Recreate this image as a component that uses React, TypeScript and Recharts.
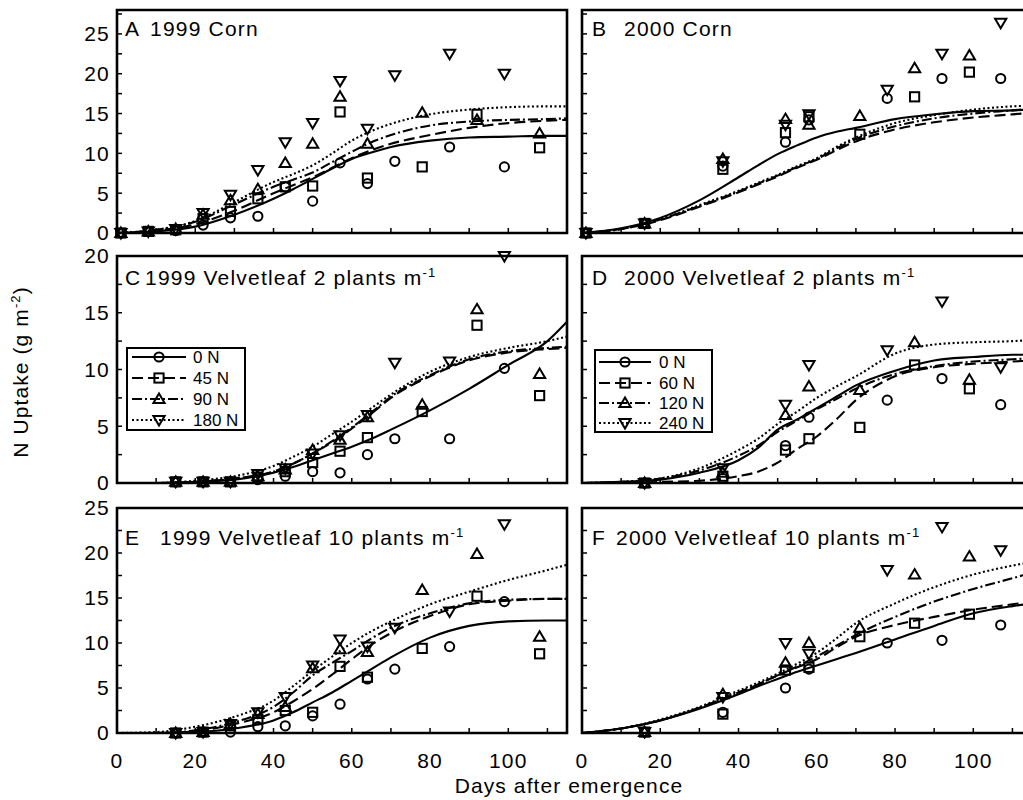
import React from 'react';
import { ComposedChart, Line, Scatter, XAxis, YAxis, ReferenceArea } from 'recharts';

const FONT = '"Liberation Sans", Arial, Helvetica, sans-serif';

// ---- sampling days ----
const days1999 = [1, 8, 15, 22, 29, 36, 43, 50, 57, 64, 71, 78, 85, 92, 99, 108];
const days2000 = [1, 16, 36, 52, 58, 71, 78, 85, 92, 99, 107];
const curveDays = [0, 10, 20, 30, 40, 45, 50, 55, 60, 65, 70, 80, 90, 100, 110, 115];

// ---- tick values ----
const xTicks = [0, 10, 20, 30, 40, 50, 60, 70, 80, 90, 100, 110];
const yTicksCorn = [0, 2.5, 5, 7.5, 10, 12.5, 15, 17.5, 20, 22.5, 25, 27.5];
const yTicksV2 = [0, 2.5, 5, 7.5, 10, 12.5, 15, 17.5, 20];
const yTicksV10 = [0, 2.5, 5, 7.5, 10, 12.5, 15, 17.5, 20, 22.5, 25];

// ---- A: 1999 Corn (points) ----
const aN0 = [0, 0.2, 0.3, 1.0, 1.9, 2.1, 5.8, 4.0, 8.8, 6.2, 9.0, null, 10.8, null, 8.3, null];
const aN1 = [0, 0.2, 0.4, 1.8, 2.7, 4.3, 5.8, 5.9, 15.2, 6.9, null, 8.3, null, 14.9, null, 10.7];
const aN2 = [0, 0.2, 0.5, 2.3, 4.1, 5.5, 8.8, 11.2, 17.1, 11.2, null, 15.1, null, 14.2, null, 12.5];
const aN3 = [0, 0.2, 0.5, 2.5, 4.8, 7.9, 11.4, 13.8, 19.1, 13.1, 19.8, null, 22.5, null, 20.0, null];
// A curves
const aC0 = [0, 0.2, 0.8, 2.3, 4.3, 5.5, 6.8, 8.1, 9.3, 10.1, 10.8, 11.6, 12.0, 12.1, 12.2, 12.2];
const aC1 = [0, 0.3, 1.1, 2.8, 5.0, 6.0, 7.0, 8.2, 9.4, 10.4, 11.2, 12.3, 13.2, 13.8, 14.1, 14.2];
const aC2 = [0, 0.4, 1.4, 3.6, 5.8, 6.7, 7.6, 8.9, 10.2, 11.4, 12.3, 13.5, 14.0, 14.2, 14.3, 14.4];
const aC3 = [0, 0.4, 1.5, 3.9, 6.4, 7.4, 8.5, 10.0, 11.6, 12.8, 13.7, 14.9, 15.5, 15.8, 15.9, 15.9];

// ---- B: 2000 Corn ----
const bN0 = [0, 1.2, 8.4, 11.4, 14.2, null, 16.9, null, 19.4, null, 19.4];
const bN1 = [0, 1.2, 8.0, 12.6, 14.6, 12.4, null, 17.1, null, 20.2, null];
const bN2 = [0, 1.2, 9.3, 14.3, 13.6, 14.7, null, 20.7, null, 22.3, null];
const bN3 = [0, 1.2, 9.0, 13.6, 14.9, null, 18.0, null, 22.5, null, 26.4];
const bC0 = [0, 0.6, 1.9, 4.1, 7.0, 8.5, 9.9, 11.0, 12.0, 12.7, 13.2, 14.3, 14.9, 15.3, 15.4, 15.5];
const bC1 = [0, 0.5, 1.6, 3.3, 5.1, 6.1, 7.1, 8.2, 9.2, 10.4, 11.5, 13.0, 13.9, 14.5, 14.9, 15.1];
const bC2 = [0, 0.5, 1.7, 3.4, 5.2, 6.2, 7.2, 8.3, 9.3, 10.6, 11.8, 13.4, 14.4, 15.0, 15.4, 15.6];
const bC3 = [0, 0.5, 1.7, 3.5, 5.3, 6.3, 7.3, 8.4, 9.4, 10.8, 12.0, 13.8, 14.8, 15.5, 15.9, 16.0];

// ---- C: 1999 Velvetleaf 2 plants ----
const cN0 = [null, null, 0.1, 0.1, 0.1, 0.3, 0.6, 1.0, 0.9, 2.5, 3.9, null, 3.9, null, 10.1, null];
const cN1 = [null, null, 0.1, 0.1, 0.1, 0.5, 1.0, 1.8, 2.8, 4.0, null, 6.3, null, 13.9, null, 7.7];
const cN2 = [null, null, 0.1, 0.1, 0.1, 0.6, 1.2, 2.9, 3.8, 5.8, null, 6.9, null, 15.3, null, 9.6];
const cN3 = [null, null, 0.1, 0.1, 0.1, 0.8, 1.3, 2.6, 4.2, 6.0, 10.6, null, 10.7, null, 20.0, null];
const cC0 = [0, 0, 0.1, 0.3, 0.9, 1.4, 2.0, 2.6, 3.2, 3.9, 4.7, 6.4, 8.3, 10.4, 12.5, 14.2];
const cC1 = [0, 0, 0.1, 0.4, 1.0, 1.7, 2.6, 3.6, 4.8, 6.1, 7.5, 9.4, 10.8, 11.5, 11.8, 11.9];
const cC2 = [0, 0, 0.1, 0.4, 1.0, 1.7, 2.6, 3.7, 4.9, 6.2, 7.6, 9.5, 10.9, 11.6, 11.9, 12.0];
const cC3 = [0, 0, 0.2, 0.6, 1.5, 2.3, 3.2, 4.3, 5.4, 6.6, 7.8, 9.8, 11.1, 11.9, 12.5, 12.9];

// ---- D: 2000 Velvetleaf 2 plants ----
const dN0 = [null, 0, 0.4, 3.3, 5.8, null, 7.3, null, 9.2, null, 6.9];
const dN1 = [null, 0, 0.6, 2.9, 3.9, 4.9, null, 10.4, null, 8.3, null];
const dN2 = [null, 0, 0.9, 6.0, 8.5, 8.2, null, 12.4, null, 9.1, null];
const dN3 = [null, 0, 1.3, 6.9, 10.4, null, 11.7, null, 16.0, null, 10.2];
const dC0 = [0, 0.1, 0.3, 0.9, 2.0, 3.1, 4.7, 5.6, 6.6, 7.6, 8.6, 9.9, 10.8, 11.1, 11.3, 11.3];
const dC1 = [0, 0, 0.1, 0.2, 0.6, 1.0, 1.8, 3.0, 4.1, 5.6, 7.3, 9.4, 10.2, 10.5, 10.7, 10.8];
const dC2 = [0, 0.1, 0.4, 1.1, 2.4, 3.3, 4.5, 5.5, 6.5, 7.4, 8.3, 9.6, 10.3, 10.7, 10.9, 11.0];
const dC3 = [0, 0.1, 0.4, 1.3, 2.9, 3.9, 5.2, 6.3, 7.5, 8.5, 9.4, 11.4, 12.2, 12.4, 12.5, 12.6];

// ---- E: 1999 Velvetleaf 10 plants ----
const eN0 = [null, null, 0, 0.1, 0.1, 0.7, 0.8, 1.9, 3.2, 6.0, 7.1, null, 9.6, null, 14.6, null];
const eN1 = [null, null, 0, 0.1, 0.8, 1.5, 2.5, 2.3, 7.4, 6.2, null, 9.4, null, 15.2, null, 8.8];
const eN2 = [null, null, 0, 0.1, 1.0, 2.1, 2.9, 7.2, 9.3, 9.0, null, 15.9, null, 19.9, null, 10.7];
const eN3 = [null, null, 0, 0.1, 1.0, 2.3, 4.0, 7.5, 10.4, 9.6, 11.7, null, 13.5, null, 23.2, null];
const eC0 = [0, 0, 0.1, 0.5, 1.4, 2.3, 3.4, 4.5, 5.8, 7.1, 8.4, 10.6, 11.9, 12.4, 12.5, 12.5];
const eC1 = [0, 0, 0.2, 1.0, 2.3, 3.5, 4.9, 6.5, 8.2, 9.8, 11.1, 13.0, 14.3, 14.7, 14.9, 14.9];
const eC2 = [0, 0, 0.3, 1.2, 2.9, 4.5, 6.4, 7.8, 9.1, 10.5, 11.7, 13.3, 14.4, 14.8, 14.9, 14.9];
const eC3 = [0, 0.1, 0.7, 1.8, 3.6, 5.2, 6.9, 8.5, 10.0, 11.3, 12.4, 14.3, 15.7, 17.0, 18.1, 18.7];

// ---- F: 2000 Velvetleaf 10 plants ----
const fN0 = [null, 0.1, 2.3, 5.0, 7.1, null, 10.0, null, 10.3, null, 12.0];
const fN1 = [null, 0.1, 2.1, 7.0, 7.3, 10.7, null, 12.2, null, 13.2, null];
const fN2 = [null, 0.1, 4.3, 7.8, 10.0, 11.7, null, 17.6, null, 19.6, null];
const fN3 = [null, 0.1, 4.0, 10.0, 8.8, null, 18.1, null, 22.9, null, 20.3];
const fC0 = [0, 0.5, 1.4, 2.7, 4.3, 5.2, 6.0, 6.8, 7.5, 8.2, 8.9, 10.4, 11.9, 13.3, 14.1, 14.4];
const fC1 = [0, 0.5, 1.4, 2.8, 4.5, 5.4, 6.4, 7.3, 8.2, 9.5, 10.7, 12.0, 12.9, 13.7, 14.3, 14.6];
const fC2 = [0, 0.5, 1.4, 2.8, 4.5, 5.4, 6.4, 7.4, 8.5, 9.7, 10.9, 12.9, 14.6, 16.0, 17.2, 17.8];
const fC3 = [0, 0.5, 1.5, 2.9, 4.7, 5.6, 6.6, 7.7, 8.9, 10.5, 12.2, 14.4, 16.2, 17.6, 18.6, 19.0];

const legend1999 = ['0 N', '45 N', '90 N', '180 N'];
const legend2000 = ['0 N', '60 N', '120 N', '240 N'];

// ---- styling ----
const SERIES_STYLE = [
  { kind: 'circle', dash: undefined },
  { kind: 'square', dash: '11 5' },
  { kind: 'triangle', dash: '10 3 2 3' },
  { kind: 'inv', dash: '2 2.5' },
];

const PADL = 60;
const PADT = 16;
const PADR = 6;
const PADB = 46;
const PLOTW = 450;

function Marker({ kind, cx, cy }: { kind: string; cx?: number; cy?: number }) {
  if (cx == null || cy == null || isNaN(cx) || isNaN(cy)) return null;
  const s = { fill: 'none', stroke: '#000', strokeWidth: 2 };
  if (kind === 'circle') return <circle cx={cx} cy={cy} r={4.6} {...s} />;
  if (kind === 'square') return <rect x={cx - 4.6} y={cy - 4.6} width={9.2} height={9.2} {...s} />;
  if (kind === 'triangle')
    return <path d={`M${cx},${cy - 5.5}L${cx + 5.6},${cy + 4}L${cx - 5.6},${cy + 4}Z`} {...s} />;
  return <path d={`M${cx},${cy + 5.5}L${cx + 5.6},${cy - 4}L${cx - 5.6},${cy - 4}Z`} {...s} />;
}

function toPoints(days: number[], vals: (number | null)[]) {
  const out: { x: number; y: number }[] = [];
  days.forEach((d, i) => {
    const v = vals[i];
    if (v !== null && v !== undefined) out.push({ x: d, y: v });
  });
  return out;
}

type PanelDef = {
  left: number;
  top: number;
  h: number;
  yMax: number;
  yTicks: number[];
  days: number[];
  pts: (number | null)[][];
  curves: number[][];
  showY: boolean;
  showX: boolean;
};

const panels: PanelDef[] = [
  { left: 117, top: 10, h: 223, yMax: 28, yTicks: yTicksCorn, days: days1999, pts: [aN0, aN1, aN2, aN3], curves: [aC0, aC1, aC2, aC3], showY: true, showX: false },
  { left: 582, top: 10, h: 223, yMax: 28, yTicks: yTicksCorn, days: days2000, pts: [bN0, bN1, bN2, bN3], curves: [bC0, bC1, bC2, bC3], showY: false, showX: false },
  { left: 117, top: 256, h: 227, yMax: 20, yTicks: yTicksV2, days: days1999, pts: [cN0, cN1, cN2, cN3], curves: [cC0, cC1, cC2, cC3], showY: true, showX: false },
  { left: 582, top: 256, h: 227, yMax: 20, yTicks: yTicksV2, days: days2000, pts: [dN0, dN1, dN2, dN3], curves: [dC0, dC1, dC2, dC3], showY: false, showX: false },
  { left: 117, top: 508, h: 225, yMax: 25, yTicks: yTicksV10, days: days1999, pts: [eN0, eN1, eN2, eN3], curves: [eC0, eC1, eC2, eC3], showY: true, showX: true },
  { left: 582, top: 508, h: 225, yMax: 25, yTicks: yTicksV10, days: days2000, pts: [fN0, fN1, fN2, fN3], curves: [fC0, fC1, fC2, fC3], showY: false, showX: true },
];

const tickStyle = { fill: '#000', fontSize: 21, fontFamily: FONT };

function Panel({ p }: { p: PanelDef }) {
  return (
    <div style={{ position: 'absolute', left: p.left - PADL, top: p.top - PADT }}>
      <ComposedChart
        width={PADL + PLOTW + PADR}
        height={PADT + p.h + PADB}
        margin={{ top: PADT, right: PADR, left: 0, bottom: 0 }}
      >
        <XAxis
          type="number"
          dataKey="x"
          domain={[0, 115]}
          ticks={xTicks}
          interval={0}
          height={PADB}
          axisLine={false}
          tickSize={-5}
          tickMargin={25}
          tickLine={{ stroke: '#000', strokeWidth: 1.5 }}
          tick={tickStyle}
          tickFormatter={(v: number) => (p.showX && v % 20 === 0 ? String(v) : '')}
        />
        <YAxis
          type="number"
          dataKey="y"
          domain={[0, p.yMax]}
          ticks={p.yTicks}
          interval={0}
          width={PADL}
          axisLine={false}
          tickSize={-5}
          tickMargin={12}
          tickLine={{ stroke: '#000', strokeWidth: 1.5 }}
          tick={tickStyle}
          tickFormatter={(v: number) => (p.showY && v % 5 === 0 ? String(v) : '')}
        />
        <ReferenceArea
          x1={0}
          x2={115}
          y1={0}
          y2={p.yMax}
          fill="none"
          fillOpacity={0}
          stroke="#000"
          strokeWidth={2.6}
          ifOverflow="visible"
        />
        {p.curves.map((c, i) => (
          <Line
            key={'l' + i}
            data={curveDays.map((d, j) => ({ x: d, y: c[j] }))}
            dataKey="y"
            type="monotone"
            dot={false}
            activeDot={false}
            stroke="#000"
            strokeWidth={2.1}
            strokeDasharray={SERIES_STYLE[i].dash}
            isAnimationActive={false}
          />
        ))}
        {p.pts.map((vals, i) => (
          <Scatter
            key={'s' + i}
            data={toPoints(p.days, vals)}
            dataKey="y"
            isAnimationActive={false}
            shape={(props: any) => <Marker kind={SERIES_STYLE[i].kind} cx={props.cx} cy={props.cy} />}
          />
        ))}
      </ComposedChart>
    </div>
  );
}

function LegendBox({ x, y, w, h, rowYs, lineX1, lineX2, textX, labels }: any) {
  return (
    <g>
      <rect x={x} y={y} width={w} height={h} fill="#fff" stroke="#000" strokeWidth={2} />
      {labels.map((lab: string, i: number) => {
        const cy = rowYs[i];
        const mx = (lineX1 + lineX2) / 2;
        return (
          <g key={lab}>
            <line x1={lineX1} x2={lineX2} y1={cy} y2={cy} stroke="#000" strokeWidth={2.1} strokeDasharray={SERIES_STYLE[i].dash} />
            <Marker kind={SERIES_STYLE[i].kind} cx={mx} cy={cy} />
            <text x={textX} y={cy + 6} fontSize={17} fontFamily={FONT} fill="#000">{lab}</text>
          </g>
        );
      })}
    </g>
  );
}

function PanelTitle({ x, y, letter, x2, text, sup }: any) {
  return (
    <g fontFamily={FONT} fontSize={21} fill="#000" style={{ letterSpacing: '1.2px' }}>
      <text x={x} y={y}>{letter}</text>
      <text x={x2} y={y}>
        {text}
        {sup ? <tspan dy={-8} fontSize={13}>{sup}</tspan> : null}
      </text>
    </g>
  );
}

export default function App() {
  return (
    <div
      style={{
        position: 'fixed',
        left: 0,
        top: 0,
        width: 1023,
        height: 800,
        overflow: 'hidden',
        background: '#fff',
        fontFamily: FONT,
      }}
    >
      <style>{`.recharts-cartesian-axis-tick-value { letter-spacing: 1.2px; }`}</style>
      {panels.map((p, i) => (
        <Panel key={i} p={p} />
      ))}
      <svg
        width={1023}
        height={800}
        style={{ position: 'absolute', left: 0, top: 0, pointerEvents: 'none' }}
      >
        <PanelTitle x={125} y={36} letter="A" x2={150} text="1999 Corn" />
        <PanelTitle x={592} y={36} letter="B" x2={624} text="2000 Corn" />
        <PanelTitle x={125} y={285} letter="C" x2={145} text="1999 Velvetleaf 2 plants m" sup="-1" />
        <PanelTitle x={592} y={285} letter="D" x2={624} text="2000 Velvetleaf 2 plants m" sup="-1" />
        <PanelTitle x={125} y={545} letter="E" x2={160} text="1999 Velvetleaf 10 plants m" sup="-1" />
        <PanelTitle x={592} y={545} letter="F" x2={616} text="2000 Velvetleaf 10 plants m" sup="-1" />

        <LegendBox x={127} y={348} w={118} h={82} rowYs={[357, 378, 399, 420]} lineX1={132} lineX2={186} textX={193} labels={legend1999} />
        <LegendBox x={595} y={350} w={117} h={82} rowYs={[362, 383, 403, 423]} lineX1={599} lineX2={651} textX={659} labels={legend2000} />

        <text
          transform="translate(28,372) rotate(-90)"
          textAnchor="middle"
          fontFamily={FONT}
          fontSize={21}
          fill="#000"
          style={{ letterSpacing: '1.1px' }}
        >
          N Uptake (g m<tspan dy={-8} fontSize={13}>-2</tspan><tspan dy={8}>)</tspan>
        </text>
        <text
          x={569}
          y={793}
          textAnchor="middle"
          fontFamily={FONT}
          fontSize={21}
          fill="#000"
          style={{ letterSpacing: '1.1px' }}
        >
          Days after emergence
        </text>
      </svg>
    </div>
  );
}
